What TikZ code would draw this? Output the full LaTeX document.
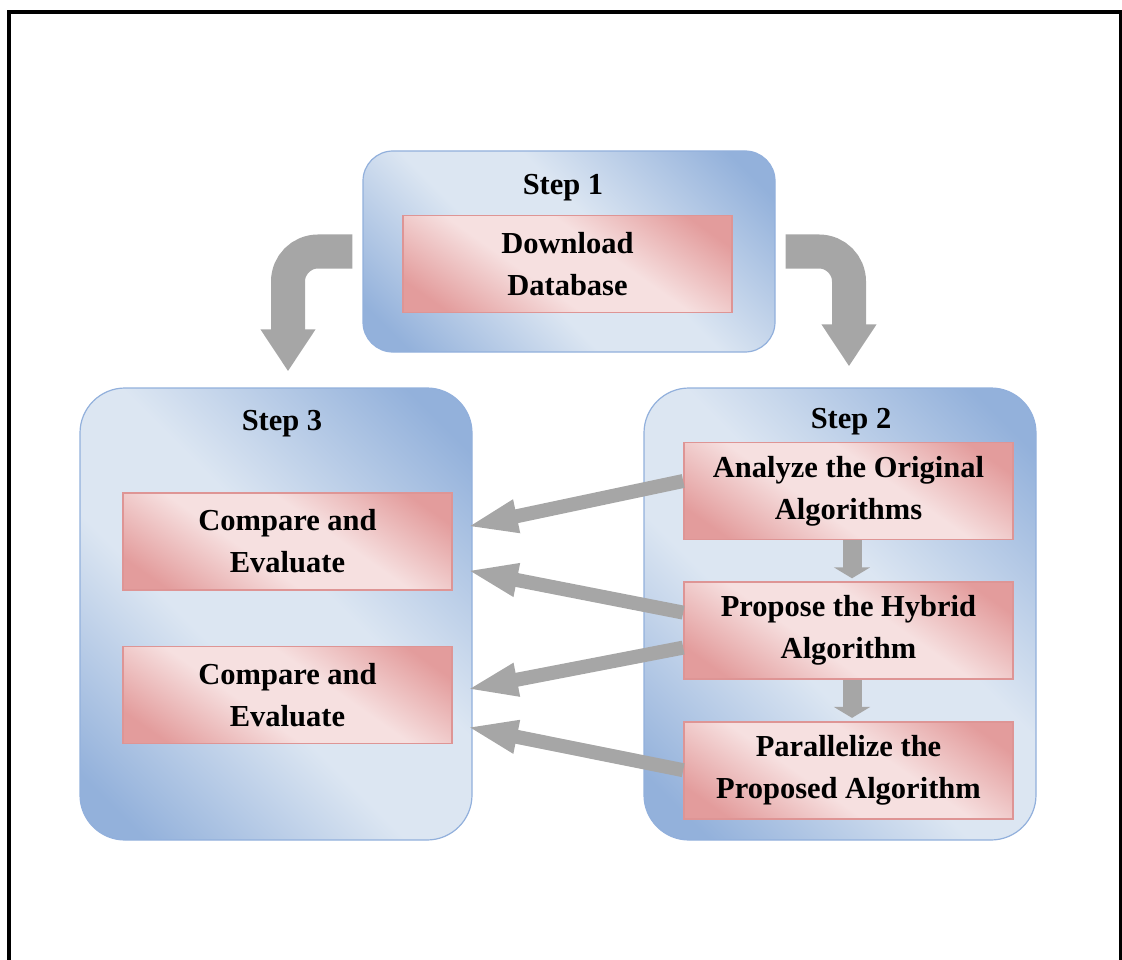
\documentclass[tikz,border=0pt]{standalone}
\usepackage{fontspec}
\setmainfont{Liberation Serif}
\usepackage{xcolor}
\usepackage{tikz}
\usetikzlibrary{positioning}
\usetikzlibrary{arrows.meta}
\definecolor{stepdark}{HTML}{93B1DB}
\definecolor{steplight}{HTML}{DCE6F2}
\definecolor{stepline}{HTML}{92B0DC}
\definecolor{taskdark}{HTML}{E39C9C}
\definecolor{tasklight}{HTML}{F6E0E0}
\definecolor{taskline}{HTML}{DE9595}
\definecolor{arrowgray}{HTML}{A6A6A6}
\pgfdeclareverticalshading{stepshade}{100bp}{color(0bp)=(stepdark); color(20bp)=(stepdark);
	color(42bp)=(steplight); color(56bp)=(steplight); color(80bp)=(stepdark); color(100bp)=(stepdark)}
\pgfdeclareverticalshading{taskshade}{100bp}{color(0bp)=(taskdark); color(22bp)=(taskdark);
	color(42bp)=(tasklight); color(58bp)=(tasklight); color(78bp)=(taskdark); color(100bp)=(taskdark)}
\tikzset{
	stepbox/.style={draw=stepline,line width=1.2pt,rounded corners=#1,
		shade,shading=stepshade,shading angle=-45,inner sep=0pt},
	stepbox/.default=45pt,
	steptitle/.style={font=\fontsize{30.5}{42}\selectfont\bfseries,anchor=base,inner sep=0pt},
	taskbox/.style={draw=taskline,line width=1.6pt,
		shade,shading=taskshade,shading angle=-35,
		minimum width=329pt,minimum height=97pt,inner sep=0pt,
		align=center,font=\fontsize{30.5}{42}\selectfont\bfseries},
	bendarrow/.style={draw=arrowgray,line width=34pt,rounded corners=30pt,
		-{Triangle[width=52pt,length=42pt]}},
	sidearrow/.style={draw=arrowgray,line width=14pt,
		-{Triangle[width=30pt,length=52pt]}},
	downarrow/.style={draw=arrowgray,line width=19pt,shorten >=3pt,
		-{Triangle[width=36pt,length=11pt]}}
}

\begin{document}
\begin{tikzpicture}[x=1pt,y=-1pt]
	\useasboundingbox (0,0) rectangle (1122,960);
	\draw[line width=4pt] (9,962) -- (9,12) -- (1120.5,12) -- (1120.5,962);

	% the three steps
	\node [stepbox=30pt,minimum width=412pt,minimum height=201pt] (step1) at (569,251.5) {};
	\node [stepbox,minimum width=392pt,minimum height=452pt] (step3) at (276,614) {};
	\node [stepbox,minimum width=392pt,minimum height=452pt] (step2) at (840,614) {};
	\node [steptitle] (title1) at (563,195) {Step 1};
	\node [steptitle] (title3) at (282,430) {Step 3};
	\node [steptitle] (title2) at (851,428) {Step 2};

	% tasks
	\node [taskbox] (download) at (567.5,264) {Download\\Database};
	\node [taskbox] (analyze) at (848.5,491) {Analyze the Original\\Algorithms};
	\node [taskbox,below=41pt of analyze] (propose) {Propose the Hybrid\\Algorithm};
	\node [taskbox,below=41pt of propose] (parallel) {Parallelize the\\Proposed Algorithm};
	\node [taskbox] (compare1) at (287.5,541.5) {Compare and\\Evaluate};
	\node [taskbox,below=55pt of compare1] (compare2) {Compare and\\Evaluate};

	% arrows
	\draw [bendarrow] ([xshift=-10pt]step1.west) -| ([xshift=12pt,yshift=16pt]step3.north);
	\draw [bendarrow] ([xshift=10pt]step1.east) -| ([xshift=9pt,yshift=21pt]step2.north);
	\draw [downarrow] ([xshift=3.5pt]analyze.south) -- ([xshift=3.5pt]propose.north);
	\draw [downarrow] ([xshift=3.5pt]propose.south) -- ([xshift=3.5pt]parallel.north);
	\draw [sidearrow] ([yshift=10pt]analyze.west) -- ([xshift=13pt,yshift=14.5pt]compare1.east);
	\draw [sidearrow] ([yshift=18pt]propose.west) -- ([xshift=13pt,yshift=-28.5pt]compare1.east);
	\draw [sidearrow] ([yshift=-17pt]propose.west) -- ([xshift=13pt,yshift=5.5pt]compare2.east);
	\draw [sidearrow] (parallel.west) -- ([xshift=13pt,yshift=-31.5pt]compare2.east);
\end{tikzpicture}
\end{document}
